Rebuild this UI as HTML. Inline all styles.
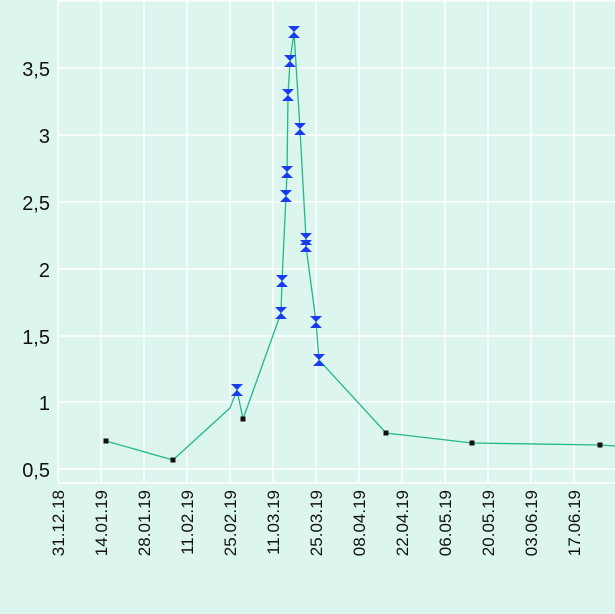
<!DOCTYPE html>
<html><head><style>body{margin:0;background:#dcf5ef;}svg{display:block}</style></head><body>
<svg width="615" height="614" xmlns="http://www.w3.org/2000/svg" font-family="Liberation Sans, sans-serif">
<rect width="615" height="614" fill="#dcf5ef"/>
<g stroke="#ffffff" stroke-width="1.5">
<line x1="58" y1="469" x2="615" y2="469"/><line x1="58" y1="402" x2="615" y2="402"/><line x1="58" y1="336" x2="615" y2="336"/><line x1="58" y1="269" x2="615" y2="269"/><line x1="58" y1="202" x2="615" y2="202"/><line x1="58" y1="135" x2="615" y2="135"/><line x1="58" y1="68" x2="615" y2="68"/><line x1="58" y1="1" x2="615" y2="1"/>
<line x1="58" y1="0" x2="58" y2="483"/><line x1="101" y1="0" x2="101" y2="483"/><line x1="144" y1="0" x2="144" y2="483"/><line x1="187" y1="0" x2="187" y2="483"/><line x1="230" y1="0" x2="230" y2="483"/><line x1="273" y1="0" x2="273" y2="483"/><line x1="316" y1="0" x2="316" y2="483"/><line x1="359" y1="0" x2="359" y2="483"/><line x1="402" y1="0" x2="402" y2="483"/><line x1="445" y1="0" x2="445" y2="483"/><line x1="488" y1="0" x2="488" y2="483"/><line x1="531" y1="0" x2="531" y2="483"/><line x1="574" y1="0" x2="574" y2="483"/>
<line x1="58" y1="483" x2="615" y2="483"/>
</g>
<g font-size="20" fill="#111" text-anchor="end">
<text x="50" y="477">0,5</text><text x="50" y="410">1</text><text x="50" y="344">1,5</text><text x="50" y="277">2</text><text x="50" y="210">2,5</text><text x="50" y="143">3</text><text x="50" y="76">3,5</text>
</g>
<g font-size="17" fill="#111" text-anchor="end">
<text transform="translate(64,490) rotate(-90)">31.12.18</text>
<text transform="translate(107,490) rotate(-90)">14.01.19</text>
<text transform="translate(150,490) rotate(-90)">28.01.19</text>
<text transform="translate(193,490) rotate(-90)">11.02.19</text>
<text transform="translate(236,490) rotate(-90)">25.02.19</text>
<text transform="translate(279,490) rotate(-90)">11.03.19</text>
<text transform="translate(322,490) rotate(-90)">25.03.19</text>
<text transform="translate(365,490) rotate(-90)">08.04.19</text>
<text transform="translate(408,490) rotate(-90)">22.04.19</text>
<text transform="translate(451,490) rotate(-90)">06.05.19</text>
<text transform="translate(494,490) rotate(-90)">20.05.19</text>
<text transform="translate(537,490) rotate(-90)">03.06.19</text>
<text transform="translate(580,490) rotate(-90)">17.06.19</text>
</g>
<polyline fill="none" stroke="#22b88a" stroke-width="1.3" points="106,441 173,460 230,408 237,390 243,419 281,313 282,281 286,196 287,172 288,95 290,61 294,32 300,129 306,239 306,246 316,322 319,360 386,433 472,443 600,445 615,446"/>
<g fill="#111">
<rect x="103.5" y="438.5" width="5" height="5"/><rect x="170.5" y="457.5" width="5" height="5"/><rect x="240.5" y="416.5" width="5" height="5"/><rect x="383.5" y="430.5" width="5" height="5"/><rect x="469.5" y="440.5" width="5" height="5"/><rect x="597.5" y="442.5" width="5" height="5"/>
</g>
<defs><path id="bt" d="M-6,-6 H6 L0,0 L6,6 H-6 L0,0 Z" fill="#1a3cf0"/></defs>
<g>
<use href="#bt" x="237" y="390"/><use href="#bt" x="281" y="313"/><use href="#bt" x="282" y="281"/><use href="#bt" x="286" y="196"/><use href="#bt" x="287" y="172"/><use href="#bt" x="288" y="95"/><use href="#bt" x="290" y="61"/><use href="#bt" x="294" y="32"/><use href="#bt" x="300" y="129"/><use href="#bt" x="306" y="239"/><use href="#bt" x="306" y="246"/><use href="#bt" x="316" y="322"/><use href="#bt" x="319" y="360"/>
</g>
</svg>
</body></html>
